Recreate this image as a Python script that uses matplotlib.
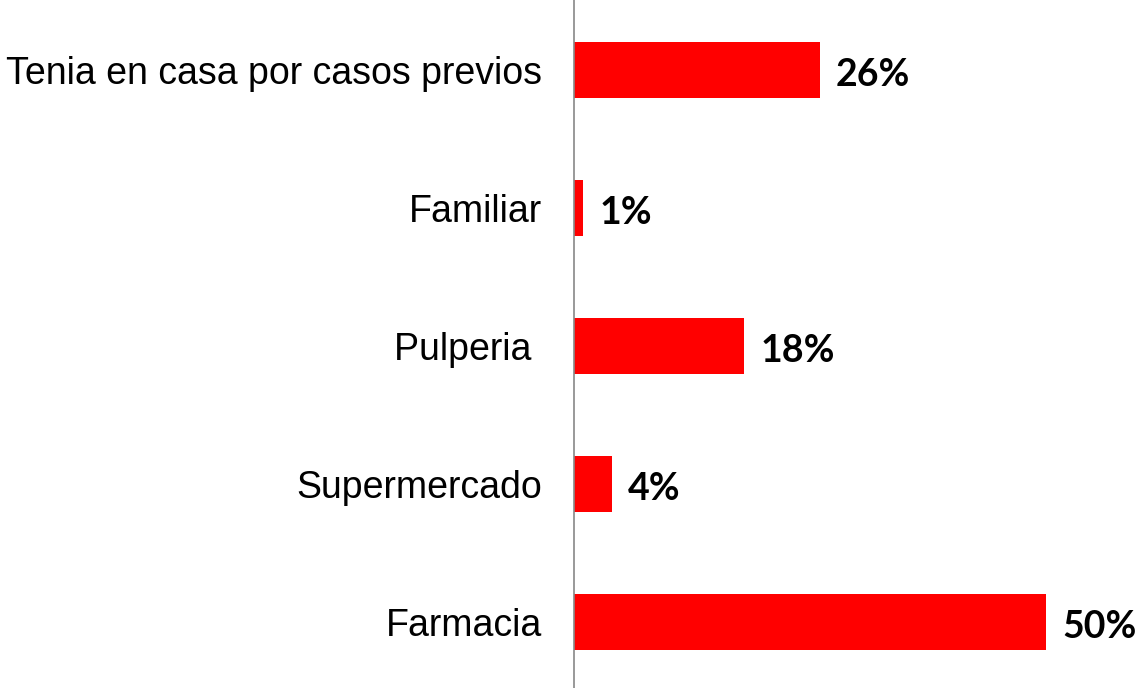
import matplotlib.pyplot as plt

categories = ['Farmacia', 'Supermercado', 'Pulperia ', 'Familiar', 'Tenia en casa por casos previos']
values = [50, 4, 18, 1, 26]
labels = ['50%', '4%', '18%', '1%', '26%']

fig = plt.figure(figsize=(11.38, 6.88), dpi=100)
ax = fig.add_axes([574 / 1138, 0, 564 / 1138, 1])

pos = list(range(len(categories)))
ax.barh(pos, values, height=0.4, color='#ff0000')

# value labels, nudged down a bit since Lato sits high
for p, v, lab in zip(pos, values, labels):
    ax.text(v + 1.7, p - 0.035, lab, va='center', ha='left', fontsize=27,
            fontweight='bold', family='Lato')

ax.set_yticks(pos)
ax.set_yticklabels(categories, fontsize=27, family='Liberation Sans')
ax.tick_params(axis='y', length=0, pad=23)
ax.set_xticks([])
ax.set_xlim(0, 59.7)
ax.set_ylim(-0.478, 4.507)

for s in ['top', 'right', 'bottom']:
    ax.spines[s].set_visible(False)
ax.spines['left'].set_color('#888888')
ax.spines['left'].set_linewidth(1.2)

fig.savefig('out.png', dpi=100)
